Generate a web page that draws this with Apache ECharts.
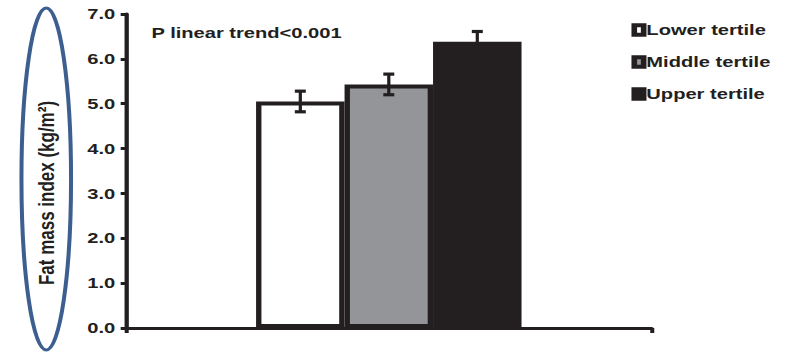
<!DOCTYPE html>
<html>
<head>
<meta charset="utf-8">
<script src="https://cdn.jsdelivr.net/npm/echarts@6/dist/echarts.min.js"></script>
<style>
  html, body { margin: 0; padding: 0; background: #ffffff; }
  #wrap { width: 791px; height: 352px; overflow: hidden; position: relative; }
  /* the figure is laid out narrow and widened horizontally */
  #chart { width: 590px; height: 352px; transform: scaleX(1.3407); transform-origin: 0 0; }
</style>
</head>
<body>
<div id="wrap"><div id="chart"></div></div>
<script>
// Fat mass index by tertile
const categories = [''];
const tertiles = ['Lower tertile', 'Middle tertile', 'Upper tertile'];
const meanFMI = [5.05, 5.43, 6.38];
const errFMI = [0.23, 0.23, 0.23];
const yTickValues = [0, 1, 2, 3, 4, 5, 6, 7];
const trendNote = 'P linear trend<0.001';
const yTitle = 'Fat mass index (kg/m\u00B2)';

const INK = '#231f20';
const fills = ['#ffffff', '#939598', '#231f20'];
const FONT = '"Liberation Sans", Arial, sans-serif';
const BAR_W = 66;

const chart = echarts.init(document.getElementById('chart'), null, { renderer: 'svg' });

const barSeries = tertiles.map((name, i) => ({
  name: name,
  type: 'bar',
  barWidth: BAR_W,
  barGap: '0%',
  data: [meanFMI[i]],
  itemStyle: { color: fills[i], borderColor: INK, borderWidth: 4 },
  emphasis: { disabled: true },
  z: 2
}));

const errorSeries = {
  type: 'custom',
  name: 'error',
  data: tertiles.map((t, i) => [0, meanFMI[i], errFMI[i], i]),
  encode: { x: 0, y: 1 },
  z: 5,
  silent: true,
  renderItem: function (params, api) {
    const mean = api.value(1), err = api.value(2), idx = api.value(3);
    const top = api.coord([0, mean + err]);
    const bot = api.coord([0, mean - err]);
    const cx = top[0] + (idx - 1) * BAR_W;
    const capW = 8.2, capH = 3.2, stemW = 2.4;
    return {
      type: 'group',
      children: [
        { type: 'rect', shape: { x: cx - stemW / 2, y: top[1], width: stemW, height: bot[1] - top[1] }, style: { fill: INK } },
        { type: 'rect', shape: { x: cx - capW / 2, y: top[1] - capH / 2, width: capW, height: capH }, style: { fill: INK } },
        { type: 'rect', shape: { x: cx - capW / 2, y: bot[1] - capH / 2, width: capW, height: capH }, style: { fill: INK } }
      ]
    };
  }
};

const option = {
  animation: false,
  backgroundColor: '#ffffff',
  grid: { left: 94, right: 104, top: 14, bottom: 24 },
  xAxis: {
    type: 'category',
    data: categories,
    axisLine: { show: true, lineStyle: { color: INK, width: 3.2 } },
    axisTick: { show: true, length: 5, lineStyle: { color: INK, width: 3 } },
    axisLabel: { show: false },
    splitLine: { show: false }
  },
  yAxis: {
    type: 'value',
    min: yTickValues[0],
    max: yTickValues[yTickValues.length - 1],
    interval: 1,
    axisLine: { show: true, lineStyle: { color: INK, width: 3.2 } },
    axisTick: { show: true, length: 4, lineStyle: { color: INK, width: 3 } },
    splitLine: { show: false },
    axisLabel: {
      margin: 8,
      color: INK,
      fontFamily: FONT,
      fontWeight: 'bold',
      fontSize: 15,
      formatter: v => v.toFixed(1)
    }
  },
  legend: {
    orient: 'vertical',
    left: 466,
    top: 17,
    data: tertiles,
    itemWidth: 7,
    itemHeight: 9.5,
    itemGap: 16,
    icon: 'rect',
    selectedMode: false,
    itemStyle: { borderColor: INK, borderWidth: 4.2 },
    textStyle: { color: INK, fontFamily: FONT, fontWeight: 'bold', fontSize: 15, lineHeight: 16, padding: [0, 0, 0, -3] }
  },
  graphic: [
    {
      type: 'text',
      x: 113, y: 33,
      style: { text: trendNote, font: 'bold 15px ' + FONT, fill: INK, verticalAlign: 'middle' }
    },
    {
      type: 'text',
      x: 34, y: 193,
      rotation: Math.PI / 2,
      style: { text: yTitle, font: 'bold 17px ' + FONT, fill: INK, align: 'center', verticalAlign: 'middle' }
    },
    {
      type: 'ellipse',
      x: 0, y: 0,
      shape: { cx: 34.5, cy: 179, rx: 18.5, ry: 171 },
      style: { fill: 'none', stroke: '#3c5f8f', lineWidth: 3 }
    }
  ],
  series: barSeries.concat([errorSeries])
};

chart.setOption(option);
</script>
</body>
</html>
